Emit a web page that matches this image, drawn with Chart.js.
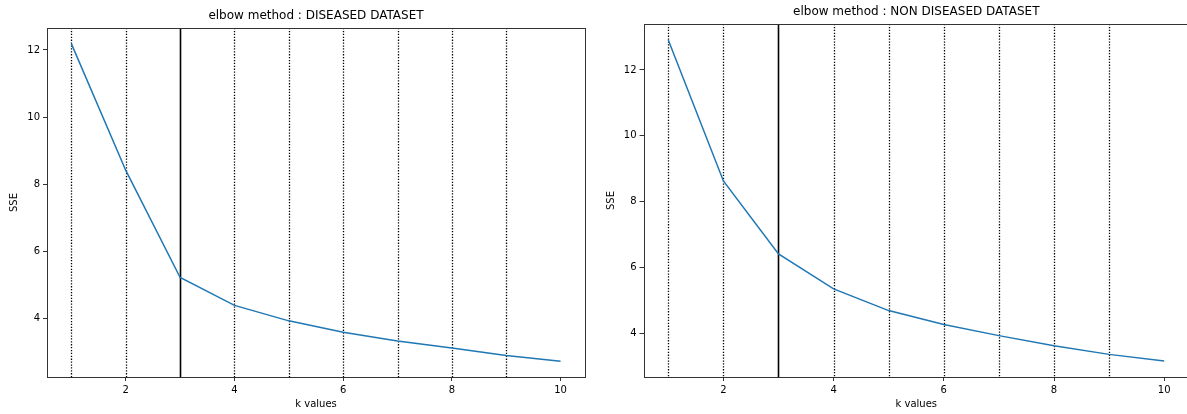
<!DOCTYPE html>
<html><head><meta charset="utf-8">
<script src="https://cdn.jsdelivr.net/npm/chart.js@4.4.0/dist/chart.umd.min.js"></script>
<style>
html,body{margin:0;padding:0;background:#fff;width:1187px;height:414px;overflow:hidden;position:relative;}
#c1{position:absolute;left:0;top:0;}
#c2{position:absolute;left:596px;top:0;}
</style></head><body>
<canvas id="c1" width="600" height="414"></canvas>
<canvas id="c2" width="600" height="414"></canvas>
<script>
const kValues = [1,2,3,4,5,6,7,8,9,10];
const sseDiseased = [12.18,8.41,5.22,4.39,3.93,3.59,3.33,3.12,2.90,2.73];
const sseNonDiseased = [12.91,8.63,6.41,5.35,4.69,4.27,3.93,3.62,3.36,3.16];
const xTicks = [2,4,6,8,10];
const yTicks = [4,6,8,10,12];
const dottedK = [1,2,4,5,6,7,8,9];
const elbowK = 3;
const titleDiseased = 'elbow method : DISEASED DATASET';
const titleNonDiseased = 'elbow method : NON DISEASED DATASET';
const xLabel = 'k values';
const yLabel = 'SSE';

const FONT = 'DejaVu Sans';

const framePlugin = {
  id: 'frame',
  beforeDatasetsDraw(chart) {
    const {ctx, chartArea: a, scales: {x}} = chart;
    ctx.save();
    ctx.beginPath();
    ctx.rect(a.left, a.top, a.right - a.left, a.bottom - a.top);
    ctx.clip();
    ctx.strokeStyle = '#000';
    ctx.lineWidth = 1.3;
    ctx.setLineDash([1.3, 1.6]);
    dottedK.forEach(k => {
      const px = Math.round(x.getPixelForValue(k)) + 0.5;
      ctx.beginPath(); ctx.moveTo(px, a.top); ctx.lineTo(px, a.bottom); ctx.stroke();
    });
    ctx.setLineDash([]);
    ctx.lineWidth = 1.6;
    const pe = Math.round(x.getPixelForValue(elbowK)) + 0.5;
    ctx.beginPath(); ctx.moveTo(pe, a.top); ctx.lineTo(pe, a.bottom); ctx.stroke();
    ctx.restore();
  },
  afterDraw(chart) {
    const {ctx, chartArea: a} = chart;
    ctx.save();
    ctx.strokeStyle = '#333';
    ctx.lineWidth = 1;
    ctx.strokeRect(Math.round(a.left) + 0.5, Math.round(a.top) + 0.5, Math.round(a.right - a.left), Math.round(a.bottom - a.top));
    const t = chart.options.plugins.customTitle;
    ctx.fillStyle = '#000';
    ctx.font = '12px "' + FONT + '"';
    ctx.textAlign = 'center';
    ctx.textBaseline = 'bottom';
    ctx.fillText(t.text, (a.left + a.right) / 2, a.top - 6);
    ctx.restore();
  }
};

function makeChart(id, values, title, topPad, rightPad, yWidth, yTitlePad) {
  const xmin = Math.min(...kValues), xmax = Math.max(...kValues);
  const ymin = Math.min(...values), ymax = Math.max(...values);
  const mx = (xmax - xmin) * 0.05, my = (ymax - ymin) * 0.05;
  const tickFont = {family: FONT, size: 10};
  return new Chart(document.getElementById(id), {
    type: 'line',
    data: {datasets: [{
      data: kValues.map((k, i) => ({x: k, y: values[i]})),
      borderColor: '#1f77b4', borderWidth: 1.5, pointRadius: 0, tension: 0, fill: false
    }]},
    options: {
      responsive: false, animation: false, devicePixelRatio: 1,
      layout: {padding: {left: 0, right: rightPad, top: topPad, bottom: 0}},
      plugins: {
        legend: {display: false}, tooltip: {enabled: false},
        customTitle: {text: title}
      },
      scales: {
        x: {
          type: 'linear', min: xmin - mx, max: xmax + mx,
          afterBuildTicks: s => { s.ticks = xTicks.map(v => ({value: v})); },
          afterFit: s => { s.height = 37; },
          grid: {display: true, drawOnChartArea: false, drawTicks: true, tickLength: 4, tickColor: '#000', tickWidth: 0.8},
          border: {display: false},
          ticks: {color: '#000', font: tickFont, padding: 3, maxRotation: 0, autoSkip: false},
          title: {display: true, text: xLabel, color: '#000', font: tickFont, padding: {top: 0, bottom: 4}}
        },
        y: {
          type: 'linear', min: ymin - my, max: ymax + my,
          afterBuildTicks: s => { s.ticks = yTicks.map(v => ({value: v})); },
          afterFit: s => { s.width = yWidth; },
          grid: {display: true, drawOnChartArea: false, drawTicks: true, tickLength: 4, tickColor: '#000', tickWidth: 0.8},
          border: {display: false},
          ticks: {color: '#000', font: tickFont, padding: 3, autoSkip: false},
          title: {display: true, text: yLabel, color: '#000', font: tickFont, padding: {top: yTitlePad, bottom: 0}}
        }
      }
    },
    plugins: [framePlugin]
  });
}

makeChart('c1', sseDiseased, titleDiseased, 28, 15, 47, 8);
makeChart('c2', sseNonDiseased, titleNonDiseased, 24, 7, 47.5, 9);
</script>
</body></html>
